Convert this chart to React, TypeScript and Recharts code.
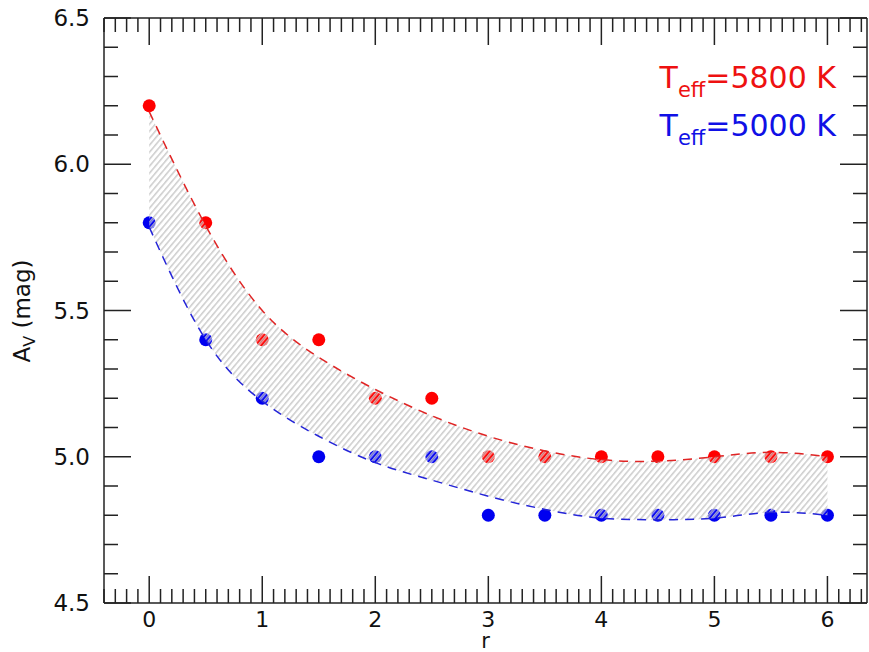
import { ComposedChart, XAxis, YAxis, Line, Area, Scatter } from 'recharts'

// radial power-law index r
const radii = [0, 0.5, 1, 1.5, 2, 2.5, 3, 3.5, 4, 4.5, 5, 5.5, 6]
// best A_V per model
const hotAv = [6.2, 5.8, 5.4, 5.4, 5.2, 5.2, 5.0, 5.0, 5.0, 5.0, 5.0, 5.0, 5.0]
const coolAv = [5.8, 5.4, 5.2, 5.0, 5.0, 5.0, 4.8, 4.8, 4.8, 4.8, 4.8, 4.8, 4.8]
// smooth fits (dashed)
const hotFit = [6.18, 5.79, 5.5, 5.34, 5.23, 5.14, 5.07, 5.02, 4.99, 4.985, 5.0, 5.015, 5.0]
const coolFit = [5.785, 5.4, 5.19, 5.07, 4.98, 4.92, 4.865, 4.82, 4.79, 4.785, 4.79, 4.81, 4.8]

const xLabels = ['0', '1', '2', '3', '4', '5', '6']
const yLabels = ['4.5', '5.0', '5.5', '6.0', '6.5']

// minor ticks every 0.1
const xTicks = Array.from({ length: 68 }, (_, i) => (i - 4) / 10)
const yTicks = Array.from({ length: 21 }, (_, i) => (45 + i) / 10)

const data = radii.map((r, i) => ({
  r,
  hot: hotAv[i],
  cool: coolAv[i],
  hotFit: hotFit[i],
  coolFit: coolFit[i],
  band: [coolFit[i], hotFit[i]],
}))

const FONT = '"DejaVu Sans", Verdana, sans-serif'
const AX = '#222'

const xMajor = (v: number) => Math.abs(v - Math.round(v)) < 1e-6
const yMajor = (v: number) => Math.abs(v * 2 - Math.round(v * 2)) < 1e-6

const xLabel = (v: number) => xLabels[Math.round(v)] ?? ''
const yLabel = (v: number) => yLabels[Math.round((v - 4.5) * 2)] ?? ''

const BottomTick = (p: any) => {
  const v = p.payload.value
  const big = xMajor(v)
  return (
    <g>
      <line x1={p.x} x2={p.x} y1={p.y} y2={p.y - (big ? 27 : 14)} stroke={AX} strokeWidth={1.5} />
      {big && (
        <text x={p.x} y={p.y + 24} textAnchor="middle" fontSize={22} fontFamily={FONT} fill="#111">
          {xLabel(v)}
        </text>
      )}
    </g>
  )
}

const TopTick = (p: any) => {
  const big = xMajor(p.payload.value)
  return <line x1={p.x} x2={p.x} y1={p.y} y2={p.y + (big ? 27 : 14)} stroke={AX} strokeWidth={1.5} />
}

const LeftTick = (p: any) => {
  const v = p.payload.value
  const big = yMajor(v)
  return (
    <g>
      <line x1={p.x} x2={p.x + (big ? 27 : 14)} y1={p.y} y2={p.y} stroke={AX} strokeWidth={1.5} />
      {big && (
        <text x={p.x - 14} y={p.y + 8} textAnchor="end" fontSize={23} fontFamily={FONT} fill="#111">
          {yLabel(v)}
        </text>
      )}
    </g>
  )
}

const RightTick = (p: any) => {
  const big = yMajor(p.payload.value)
  return <line x1={p.x} x2={p.x - (big ? 27 : 14)} y1={p.y} y2={p.y} stroke={AX} strokeWidth={1.5} />
}

const Dot = (color: string) => (p: any) => <circle cx={p.cx} cy={p.cy} r={6.5} fill={color} />

export default function App() {
  return (
    <div style={{ position: 'absolute', left: 0, top: 0, background: '#fff' }}>
      <ComposedChart width={869} height={652} data={data} margin={{ top: 17, right: 1, bottom: 0, left: 0 }}>
        <defs>
          <pattern id="hatch" width="4.5" height="10" patternUnits="userSpaceOnUse" patternTransform="rotate(40)">
            <line x1="0.8" y1="0" x2="0.8" y2="10" stroke="#c4c4c4" strokeWidth="1.3" />
            <line x1="2.4" y1="0" x2="2.4" y2="10" stroke="#ffffff" strokeWidth="0.9" strokeOpacity="0.7" />
          </pattern>
        </defs>
        <XAxis
          dataKey="r"
          type="number"
          domain={[-0.4, 6.35]}
          ticks={xTicks}
          interval={0}
          height={49}
          tickSize={0}
          tickMargin={0}
          tick={<BottomTick />}
          axisLine={{ stroke: AX, strokeWidth: 1.5 }}
          label={{ value: 'r', position: 'insideBottom', offset: 4, fontSize: 21, fontFamily: FONT, fill: '#111' }}
        />
        <XAxis
          xAxisId="top"
          orientation="top"
          dataKey="r"
          type="number"
          domain={[-0.4, 6.35]}
          ticks={xTicks}
          interval={0}
          height={1}
          tickSize={0}
          tickMargin={0}
          tick={<TopTick />}
          axisLine={{ stroke: AX, strokeWidth: 1.5 }}
        />
        <YAxis
          type="number"
          domain={[4.5, 6.5]}
          ticks={yTicks}
          interval={0}
          width={104}
          tickSize={0}
          tickMargin={0}
          tick={<LeftTick />}
          axisLine={{ stroke: AX, strokeWidth: 1.5 }}
          label={{
            content: () => (
              <text transform="translate(30, 311) rotate(-90)" textAnchor="middle" fontSize={23} fontFamily={FONT} fill="#111">
                A<tspan fontSize={16} dy={5}>V</tspan>
                <tspan dy={-5}> (mag)</tspan>
              </text>
            ),
          }}
        />
        <YAxis
          yAxisId="right"
          orientation="right"
          type="number"
          domain={[4.5, 6.5]}
          ticks={yTicks}
          interval={0}
          width={1}
          tickSize={0}
          tickMargin={0}
          tick={<RightTick />}
          axisLine={{ stroke: AX, strokeWidth: 1.5 }}
        />
        {/* invisible series so the top and right frame axes get drawn */}
        <Line xAxisId="top" yAxisId="right" dataKey="hotFit" stroke="none" dot={false} activeDot={false} isAnimationActive={false} />
        <Scatter dataKey="hot" fill="#ff0000" shape={Dot('#ff0000')} isAnimationActive={false} />
        <Scatter dataKey="cool" fill="#0000f0" shape={Dot('#0000f0')} isAnimationActive={false} />
        <Area
          dataKey="band"
          type="natural"
          stroke="none"
          fill="url(#hatch)"
          fillOpacity={1}
          isAnimationActive={false}
          zIndex={700}
        />
        <Line dataKey="hotFit" type="natural" stroke="#e02424" strokeWidth={1.5} strokeDasharray="9 7" dot={false} isAnimationActive={false} zIndex={800} />
        <Line dataKey="coolFit" type="natural" stroke="#2424d8" strokeWidth={1.5} strokeDasharray="9 7" dot={false} isAnimationActive={false} zIndex={800} />
        <text x={836} y={88} textAnchor="end" fontFamily={FONT} fontSize={30} fill="#ee1111">
          T<tspan fontSize={21} dy={9}>eff</tspan>
          <tspan dy={-9}>=5800 K</tspan>
        </text>
        <text x={836} y={136} textAnchor="end" fontFamily={FONT} fontSize={30} fill="#1010e6">
          T<tspan fontSize={21} dy={9}>eff</tspan>
          <tspan dy={-9}>=5000 K</tspan>
        </text>
      </ComposedChart>
    </div>
  )
}
